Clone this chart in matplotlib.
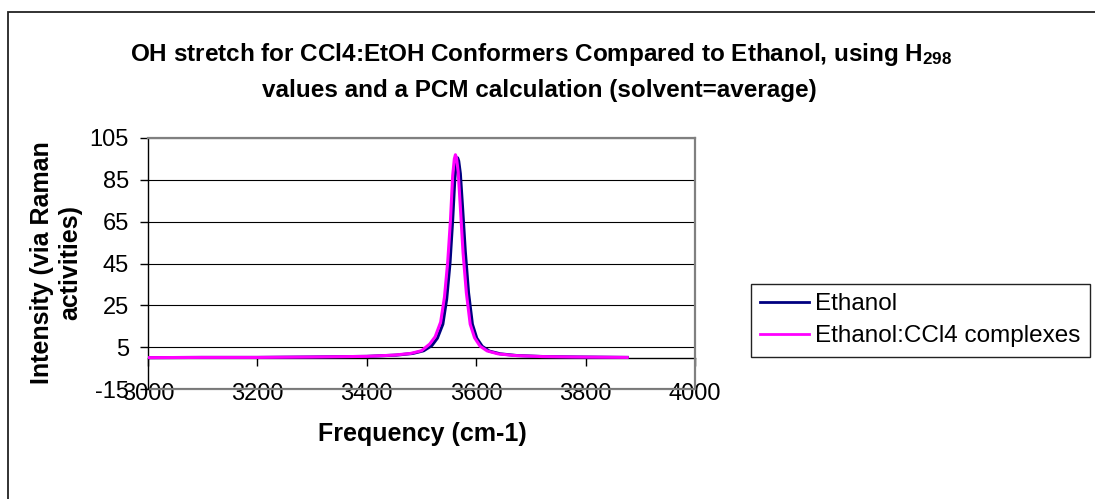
import matplotlib
matplotlib.use("Agg")
import matplotlib.pyplot as plt
from matplotlib.patches import Rectangle

plt.rcParams['font.family'] = ['Liberation Sans', 'DejaVu Sans']
plt.rcParams['mathtext.fontset'] = 'custom'
plt.rcParams['mathtext.rm'] = 'Liberation Sans'
plt.rcParams['mathtext.bf'] = 'Liberation Sans:bold'
plt.rcParams['axes.unicode_minus'] = False

# values
eth_freq = [3000, 3100, 3200, 3300, 3400, 3454, 3484, 3504, 3519, 3529, 3539, 3546,
            3552, 3557, 3561, 3564, 3566, 3568, 3571, 3575, 3580, 3586, 3593, 3601,
            3611, 3624, 3644, 3674, 3724, 3784, 3876]
eth_int = [0.0, 0.1, 0.1, 0.3, 0.6, 1.2, 2.0, 3.3, 5.8, 9.3, 16, 28,
           45, 66, 86, 93, 95.5, 94, 88, 72, 51, 31, 16, 9.3,
           5.4, 3.1, 1.8, 1.0, 0.5, 0.3, 0.1]

cpx_freq = [3000, 3100, 3200, 3300, 3400, 3450, 3480, 3500, 3515, 3525, 3535, 3542,
            3548, 3553, 3557, 3560, 3562, 3564, 3567, 3571, 3576, 3582, 3589, 3597,
            3607, 3620, 3640, 3670, 3720, 3780, 3876]
cpx_int = [0.0, 0.1, 0.1, 0.3, 0.6, 1.2, 2.0, 3.3, 6.5, 10, 17, 29,
           46, 66, 87, 95, 97, 95.5, 89, 72, 50, 31, 16, 9.5,
           5.5, 3.2, 1.8, 1.0, 0.5, 0.3, 0.1]

series = ["Ethanol", "Ethanol:CCl4 complexes"]
xticks = [3000, 3200, 3400, 3600, 3800, 4000]
yticks = [-15, 5, 25, 45, 65, 85, 105]

W, H = 1095, 499
fig = plt.figure(figsize=(W / 100, H / 100), dpi=100)
fig.patch.set_facecolor('white')

# outer chart border (cut off at right/bottom)
fig.patches.append(Rectangle((8 / W, -0.1), 1.2, 1 - 12 / H + 0.1, transform=fig.transFigure,
                             fill=False, edgecolor='#222222', lw=1.3))

ax = fig.add_axes([148 / W, 1 - 389 / H, (695 - 148) / W, (389 - 138) / H])
ax.plot(eth_freq, eth_int, color='#000080', lw=2.2, label=series[0], zorder=3)
ax.plot(cpx_freq, cpx_int, color='#FF00FF', lw=2.2, label=series[1], zorder=4)

ax.set_xlim(3000, 4000)
ax.set_ylim(-15, 105)
ax.set_yticks(yticks)
ax.set_xticks(xticks)
ax.yaxis.grid(True, color='black', lw=0.8)
ax.set_axisbelow(True)

for s in ['top', 'right']:
    ax.spines[s].set_color('#808080')
    ax.spines[s].set_linewidth(1.6)
ax.spines['left'].set_color('black')
ax.spines['left'].set_linewidth(1.0)
ax.spines['bottom'].set_position(('data', 0))
ax.spines['bottom'].set_color('black')
ax.spines['bottom'].set_linewidth(1.0)
ax.spines['bottom'].set_zorder(2)

ax.tick_params(axis='y', direction='out', length=5.8, width=1.0, pad=8.0, labelsize=17)
ax.tick_params(axis='x', direction='out', length=5.8, width=1.0, labelbottom=False)

secax = ax.secondary_xaxis('bottom')
secax.set_xticks(xticks)
secax.tick_params(length=0, pad=-4.5, labelsize=17)
secax.spines['bottom'].set_color('#808080')
secax.spines['bottom'].set_linewidth(1.6)

fig.text(541 / W, 1 - 55 / H,
         r"OH stretch for CCl4:EtOH Conformers Compared to Ethanol, using $\mathbf{H_{298}}$",
         ha='center', va='center', fontsize=17.5, fontweight='bold')
fig.text(539 / W, 1 - 90 / H, "values and a PCM calculation (solvent=average)",
         ha='center', va='center', fontsize=17.5, fontweight='bold')

fig.text(56 / W, 1 - 263 / H, "Intensity (via Raman\nactivities)", rotation=90,
         ha='center', va='center', multialignment='center', fontsize=18,
         fontweight='bold', linespacing=1.25)
fig.text(422 / W, 1 - 434 / H, "Frequency (cm-1)", ha='center', va='center',
         fontsize=18, fontweight='bold')

leg = fig.legend(loc='upper left', bbox_to_anchor=(751 / W, 1 - 284 / H), fontsize=17.5,
                 frameon=True, fancybox=False, framealpha=1, edgecolor='#222222',
                 handlelength=2.0, handletextpad=0.25, labelspacing=0.42,
                 borderpad=0.38, borderaxespad=0)
leg.get_frame().set_linewidth(1.0)
for line in leg.get_lines():
    line.set_linewidth(2.0)

fig.savefig("out.png", dpi=100)
